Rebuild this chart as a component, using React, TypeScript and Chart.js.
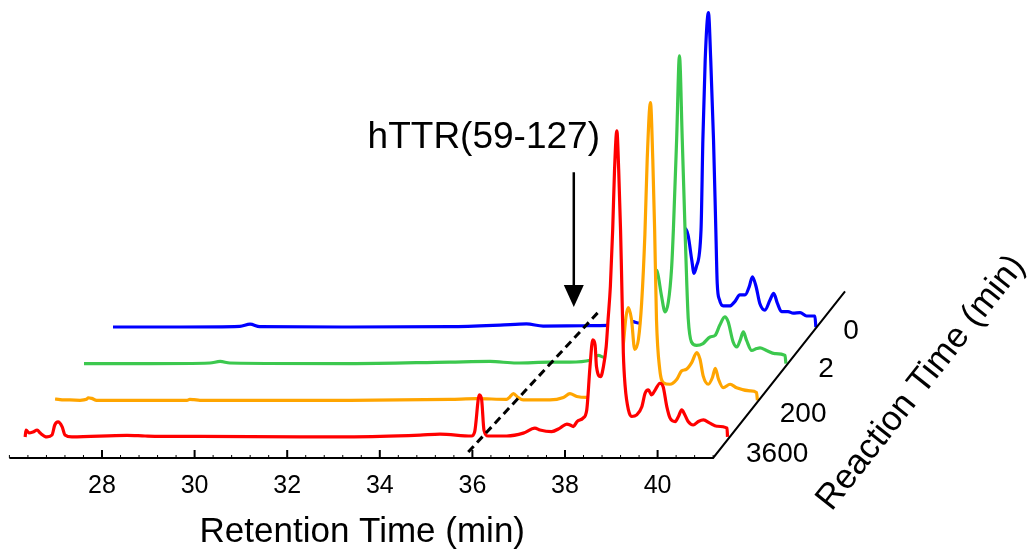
import React, { useEffect, useRef } from 'react';
import { Chart, registerables } from 'chart.js';

Chart.register(...registerables);

// ---- data (retention time in min, intensity in arbitrary units) ----
const reactionTimes = ['3600', '200', '2', '0'];
const retentionTicks = [28, 30, 32, 34, 36, 38, 40];
const seriesColors = ['#FF0000', '#FFA500', '#3CC84E', '#0000FF'];

const redT = [25.98, 26.00, 26.06, 26.15, 26.24, 26.30, 26.45, 26.56, 26.62, 26.69, 26.78, 26.84, 26.99, 28.18, 28.57, 28.89, 29.76, 31.92, 33.65, 34.51, 34.94, 35.62, 35.69, 35.79, 35.84, 35.89, 35.98, 36.38, 36.74, 36.99, 37.10, 37.35, 37.53, 37.68, 37.75, 37.82, 37.90, 38.03, 38.11, 38.18, 38.24, 38.29, 38.32, 38.41, 38.47, 38.53, 38.57, 38.62, 38.67, 38.71, 38.76, 38.80, 38.84, 38.86, 38.90, 38.94, 39.01, 39.08, 39.19, 39.30, 39.37, 39.44, 39.51, 39.59, 39.69, 39.76, 39.84, 39.91, 40.02, 40.09, 40.16, 40.23, 40.30, 40.41, 40.52, 40.63, 40.77, 40.92, 41.14, 41.15];
const redI = [0, 2.2, 1.3, 1.6, 2.2, 1.3, 0, 0.6, 3.8, 4.8, 3.2, 0.6, 0, 0.5, 0.3, 0.2, 0.2, 0, 0.2, 0.6, 0.9, 0.3, 1.7, 13.4, 11.8, 2.2, 0.3, 0.3, 1.2, 2.8, 2.2, 1.7, 2.8, 4.1, 3.8, 3.3, 4.9, 6.0, 8.6, 22.4, 30.9, 29.3, 22.4, 19.2, 22.4, 28.8, 37.3, 47.9, 65.9, 85.0, 97.5, 85.0, 65.9, 53.2, 26.7, 16.0, 8.6, 6.5, 7.0, 9.6, 13.9, 15.0, 13.4, 15.0, 17.1, 16.0, 9.6, 6.0, 4.9, 6.5, 8.6, 7.0, 4.9, 3.8, 4.9, 5.4, 4.4, 3.4, 2.8, 0];

const orangeT = [26.00, 26.07, 26.18, 26.32, 26.54, 26.68, 26.72, 26.79, 26.90, 27.68, 28.85, 28.91, 29.00, 29.13, 32.37, 34.53, 35.11, 35.75, 35.82, 35.90, 36.00, 36.11, 36.69, 36.98, 37.12, 37.27, 37.49, 37.70, 37.92, 38.07, 38.18, 38.27, 38.33, 38.38, 38.45, 38.52, 38.60, 38.67, 38.74, 38.79, 38.86, 38.91, 38.95, 38.99, 39.06, 39.14, 39.28, 39.43, 39.53, 39.64, 39.75, 39.86, 39.93, 40.00, 40.11, 40.20, 40.26, 40.33, 40.43, 40.58, 40.72, 41.01, 41.15, 41.17];
const orangeI = [0.4, 0.3, 0.1, 0.1, 0, 0.3, 0.8, 0.6, 0, 0, 0, 0.3, 0.2, 0, 0, 0.3, 0.5, 0.3, 1.0, 2.1, 0.9, 0.1, 0.1, 0.9, 2.1, 1.2, 0.9, 1.0, 1.6, 3.5, 8.3, 17.3, 26.4, 29.5, 25.8, 16.2, 19.4, 31.1, 52.9, 76.8, 94.8, 76.8, 54.5, 25.8, 9.9, 5.6, 5.1, 6.7, 9.3, 9.9, 12.0, 15.2, 13.1, 7.7, 5.1, 7.3, 10.2, 6.7, 4.0, 5.1, 4.0, 3.0, 2.5, 0];

const greenT = [26.00, 27.42, 28.72, 28.94, 29.15, 31.74, 33.90, 34.77, 35.34, 36.06, 36.49, 36.93, 37.11, 37.21, 37.36, 37.68, 38.01, 38.18, 38.27, 38.37, 38.40, 38.47, 38.55, 38.62, 38.69, 38.73, 38.80, 38.86, 38.92, 38.98, 39.02, 39.05, 39.12, 39.23, 39.37, 39.52, 39.63, 39.73, 39.84, 39.91, 40.02, 40.10, 40.17, 40.24, 40.31, 40.42, 40.53, 40.60, 40.74, 40.92, 41.14, 41.16];
const greenI = [0, 0, 0.2, 0.7, 0.2, 0, 0.5, 0.7, 0.2, 0.5, 0.5, 1.1, 2.6, 2.1, 1.6, 1.6, 2.9, 9.6, 20.7, 29.7, 28.1, 21.8, 16.5, 19.6, 30.3, 43.0, 71.7, 98.0, 71.7, 43.0, 24.9, 14.3, 6.9, 5.8, 6.4, 8.5, 9.0, 12.2, 14.9, 13.4, 6.9, 5.3, 7.4, 10.1, 7.4, 4.2, 4.8, 5.0, 4.2, 3.2, 2.6, 0];

const blueT = [26.00, 27.44, 28.74, 28.96, 29.17, 31.12, 33.28, 34.36, 34.93, 35.29, 36.16, 36.70, 36.86, 37.02, 37.13, 37.24, 37.38, 37.60, 37.81, 38.03, 38.16, 38.27, 38.35, 38.42, 38.50, 38.55, 38.60, 38.70, 38.74, 38.79, 38.86, 38.91, 38.97, 39.02, 39.05, 39.10, 39.18, 39.32, 39.43, 39.54, 39.65, 39.74, 39.81, 39.89, 39.97, 40.08, 40.19, 40.27, 40.35, 40.44, 40.58, 40.69, 40.84, 40.98, 41.16, 41.18];
const blueI = [0, 0, 0.2, 0.9, 0.1, 0, 0.1, 0.6, 1.0, 0.3, 0.4, 0.5, 0.8, 1.7, 2.2, 1.7, 1.2, 1.6, 2.9, 5.4, 11.8, 26.1, 31.4, 29.3, 21.3, 17.1, 19.2, 30.9, 59.6, 85.0, 100.1, 85.0, 59.6, 30.9, 13.9, 8.6, 6.7, 6.7, 8.1, 10.2, 10.2, 12.8, 16.0, 12.8, 7.5, 5.4, 8.6, 10.7, 7.5, 4.9, 4.9, 4.4, 4.6, 3.5, 3.5, 0];

// dashed guide line (projected coordinates: retention time, height)
const guideX = [35.91, 38.76];
const guideY = [1.9, 47.1];

// ---- projection of the waterfall ----
const DEPTH_DX = 0.626; // min per reaction-time step
const DEPTH_DY = 11.67; // intensity units per step
const FRONT = 0.575; // depth of the front trace
const AXIS_START = 26;
const AXIS_END = 41.2;
const DIAG_DEPTH = 4.55;
const ARROW_T = 38.19;

const FONT = '"Liberation Sans", Arial, Helvetica, sans-serif';

function project(t: number[], v: number[], k: number) {
  const d = FRONT + k;
  return t.map((tt, j) => ({ x: tt + d * DEPTH_DX, y: v[j] + d * DEPTH_DY }));
}

const decorPlugin = {
  id: 'decor',
  afterDraw(chart: any) {
    const { ctx, scales } = chart;
    const xs = scales.x;
    const ys = scales.y;
    const px = (v: number) => xs.getPixelForValue(v);
    const py = (v: number) => ys.getPixelForValue(v);
    const y0 = py(0);
    ctx.save();
    ctx.strokeStyle = '#000';
    ctx.fillStyle = '#000';
    ctx.lineCap = 'butt';

    // front axis
    ctx.lineWidth = 2;
    ctx.beginPath();
    ctx.moveTo(px(AXIS_START), y0);
    ctx.lineTo(px(AXIS_END), y0);
    ctx.lineTo(px(AXIS_END + DIAG_DEPTH * DEPTH_DX), py(DIAG_DEPTH * DEPTH_DY));
    ctx.stroke();

    // minor ticks
    ctx.lineWidth = 1;
    for (let k = 0; AXIS_START + k * 0.4 <= AXIS_END + 1e-6; k++) {
      const v = AXIS_START + k * 0.4;
      if (retentionTicks.some((m) => Math.abs(m - v) < 1e-6)) continue;
      ctx.beginPath();
      ctx.moveTo(px(v), y0);
      ctx.lineTo(px(v), y0 - 3);
      ctx.stroke();
    }
    // major ticks + labels
    ctx.lineWidth = 2;
    ctx.font = `25px ${FONT}`;
    ctx.textAlign = 'center';
    ctx.textBaseline = 'alphabetic';
    retentionTicks.forEach((v) => {
      ctx.beginPath();
      ctx.moveTo(px(v), y0);
      ctx.lineTo(px(v), y0 - 8);
      ctx.stroke();
      ctx.fillText(String(v), px(v), y0 + 35);
    });

    // x title
    ctx.font = `35px ${FONT}`;
    ctx.fillText('Retention Time (min)', (px(AXIS_START) + px(AXIS_END)) / 2 + 1, y0 + 84);

    // reaction time labels
    const ax = px(AXIS_END);
    const labelOffsets = [
      [64, 4],
      [90, -36],
      [113, -81],
      [138, -119],
    ];
    ctx.font = `28px ${FONT}`;
    reactionTimes.forEach((lab, k) => {
      ctx.fillText(lab, ax + labelOffsets[k][0], y0 + labelOffsets[k][1]);
    });

    // rotated axis title
    ctx.save();
    ctx.translate(ax + 208, y0 - 75);
    ctx.rotate((-51.7 * Math.PI) / 180);
    ctx.font = `35px ${FONT}`;
    ctx.textBaseline = 'middle';
    ctx.fillText('Reaction Time (min)', 0, 0);
    ctx.restore();

    // annotation arrow
    const arX = px(ARROW_T);
    const top = py(91);
    const tip = py(48.1);
    ctx.lineWidth = 2.5;
    ctx.beginPath();
    ctx.moveTo(arX, top);
    ctx.lineTo(arX, tip - 18);
    ctx.stroke();
    ctx.beginPath();
    ctx.moveTo(arX - 10, tip - 22);
    ctx.lineTo(arX + 10, tip - 22);
    ctx.lineTo(arX, tip);
    ctx.closePath();
    ctx.fill();

    ctx.font = `37px ${FONT}`;
    ctx.textAlign = 'center';
    ctx.textBaseline = 'alphabetic';
    ctx.fillText('hTTR(59-127)', arX - 90, top - 24);

    ctx.restore();
  },
};

export default function App() {
  const ref = useRef<HTMLCanvasElement | null>(null);

  useEffect(() => {
    document.body.style.margin = '0';
    const canvas = ref.current;
    if (!canvas) return;
    const traces = [
      [redT, redI],
      [orangeT, orangeI],
      [greenT, greenI],
      [blueT, blueI],
    ];
    const datasets: any[] = traces.map(([t, v], k) => ({
      label: reactionTimes[k],
      data: project(t as number[], v as number[], k),
      borderColor: seriesColors[k],
      backgroundColor: '#FFFFFF',
      fill: 'start',
      borderWidth: 3.2,
      pointRadius: 0,
      cubicInterpolationMode: 'monotone',
      order: k,
    }));
    datasets.push({
      label: 'guide',
      data: guideX.map((x, j) => ({ x, y: guideY[j] })),
      borderColor: '#000000',
      borderWidth: 3,
      borderDash: [8, 5],
      pointRadius: 0,
      fill: false,
      order: -1,
    });

    const chart = new Chart(canvas, {
      type: 'line',
      data: { datasets },
      options: {
        animation: false,
        responsive: false,
        devicePixelRatio: 1,
        layout: { padding: 0 },
        parsing: false as any,
        normalized: true,
        plugins: {
          legend: { display: false },
          tooltip: { enabled: false },
          filler: { drawTime: 'beforeDatasetDraw' } as any,
        },
        scales: {
          x: { type: 'linear', display: false, min: 25.797, max: 48.065 },
          y: { type: 'linear', display: false, min: -29.94, max: 145.86 },
        },
      },
      plugins: [decorPlugin],
    });
    return () => chart.destroy();
  }, []);

  return (
    <div style={{ width: 1031, height: 552, background: '#fff' }}>
      <canvas ref={ref} width={1031} height={552} style={{ display: 'block' }} />
    </div>
  );
}
